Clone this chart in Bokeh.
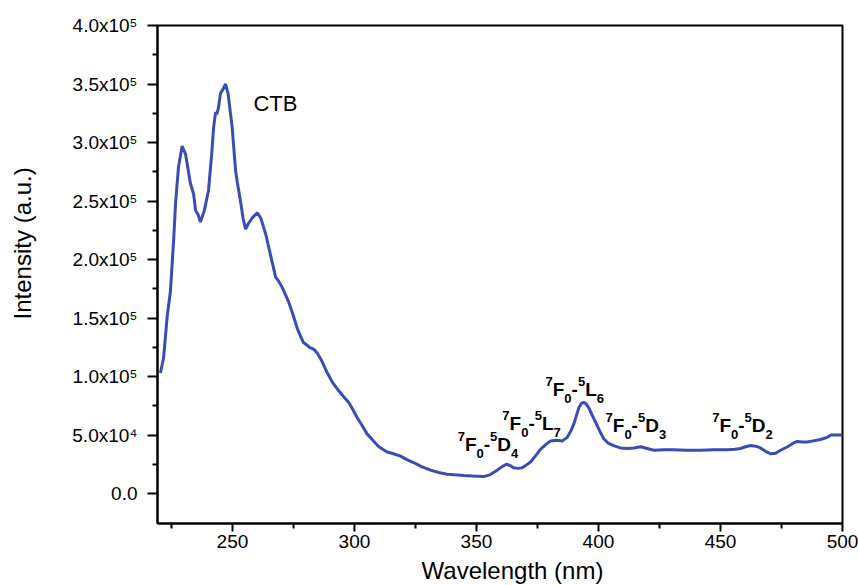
import math
from bokeh.plotting import figure
from bokeh.layouts import row, column
from bokeh.models import ColumnDataSource, FixedTicker, Label
from bokeh.core.properties import value
from bokeh.embed import file_html
from bokeh.resources import INLINE

# ---------------- data ----------------
wavelength = [
    220.5, 221.8, 223.3, 224.6, 225.9, 226.7, 227.9, 229.4, 230.8, 232.8,
    234.1, 234.9, 236.0, 236.9, 238.5, 240.2, 241.5, 242.3, 243.1, 243.6,
    244.3, 245.1, 246.0, 247.2, 248.2, 249.9, 251.3, 252.0, 253.3, 254.4,
    255.4, 256.6, 258.3, 260.2, 261.7, 263.6, 265.6, 267.7, 268.8, 270.2,
    271.5, 273.0, 274.8, 276.6, 278.0, 279.1, 280.5, 281.5, 282.7, 283.5,
    284.8, 286.7, 288.9, 291.0, 293.5, 295.5, 297.6, 299.3, 301.1, 303.2,
    305.2, 307.8, 310.0, 313.4, 316.0, 318.9, 321.5, 324.2, 327.5, 331.2,
    334.5, 338.0, 341.0, 344.7, 348.5, 352.9, 355.5, 358.5, 360.5, 362.3,
    363.8, 365.2, 367.0, 368.8, 370.5, 372.2, 374.5, 376.3, 378.5, 380.4,
    382.8, 385.2, 387.2, 388.8, 390.0, 391.0, 392.0, 393.0, 394.0, 395.0,
    396.0, 397.4, 398.8, 400.4, 402.1, 404.0, 406.2, 409.0, 411.8, 414.5,
    417.3, 420.0, 422.6, 426.7, 430.8, 436.0, 441.9, 447.0, 452.8, 456.0,
    458.2, 460.3, 462.3, 464.4, 466.4, 468.5, 470.5, 472.6, 474.6, 477.5,
    479.8, 481.5, 483.5, 485.6, 488.0, 490.5, 492.3, 493.8, 495.2, 497.5,
    499.3, 500.0,
]
intensity_e5 = [
    1.03, 1.16, 1.52, 1.73, 2.16, 2.48, 2.79, 2.97, 2.90, 2.65,
    2.56, 2.42, 2.38, 2.32, 2.42, 2.59, 2.90, 3.13, 3.26, 3.24,
    3.30, 3.42, 3.45, 3.50, 3.42, 3.13, 2.76, 2.66, 2.50, 2.35,
    2.26, 2.31, 2.36, 2.40, 2.35, 2.22, 2.04, 1.85, 1.82, 1.77,
    1.71, 1.64, 1.53, 1.41, 1.34, 1.29, 1.27, 1.25, 1.24, 1.23,
    1.20, 1.13, 1.03, 0.95, 0.88, 0.83, 0.78, 0.72, 0.65, 0.58,
    0.51, 0.45, 0.40, 0.355, 0.34, 0.32, 0.29, 0.265, 0.23, 0.20,
    0.18, 0.165, 0.16, 0.155, 0.15, 0.145, 0.16, 0.20, 0.23, 0.25,
    0.24, 0.22, 0.215, 0.22, 0.245, 0.27, 0.33, 0.38, 0.42, 0.45,
    0.455, 0.45, 0.48, 0.54, 0.60, 0.67, 0.735, 0.77, 0.78, 0.765,
    0.735, 0.67, 0.61, 0.54, 0.47, 0.43, 0.41, 0.39, 0.385, 0.39,
    0.40, 0.385, 0.37, 0.375, 0.375, 0.37, 0.37, 0.375, 0.375, 0.378,
    0.385, 0.40, 0.41, 0.405, 0.39, 0.36, 0.34, 0.345, 0.37, 0.40,
    0.43, 0.445, 0.44, 0.44, 0.45, 0.46, 0.47, 0.48, 0.50, 0.50,
    0.50, 0.505,
]
intensity = [v * 1e5 for v in intensity_e5]

x_major_ticks = [250, 300, 350, 400, 450, 500]
x_minor_ticks = [225, 275, 325, 375, 425, 475]
y_major_ticks = [0, 50000, 100000, 150000, 200000, 250000, 300000, 350000, 400000]
y_minor_ticks = [25000, 75000, 125000, 175000, 225000, 275000, 325000, 375000]
y_tick_labels = ["0.0", "5.0x10\u2074", "1.0x10\u2075", "1.5x10\u2075", "2.0x10\u2075",
                 "2.5x10\u2075", "3.0x10\u2075", "3.5x10\u2075", "4.0x10\u2075"]

x_title = "Wavelength (nm)"
y_title = "Intensity (a.u.)"

# transition labels: (sup1, letter1, sub1, sup2, letter2, sub2), anchor x, anchor y
transitions = [
    ("7", "F", "0", "5", "D", "4"),
    ("7", "F", "0", "5", "L", "7"),
    ("7", "F", "0", "5", "L", "6"),
    ("7", "F", "0", "5", "D", "3"),
    ("7", "F", "0", "5", "D", "2"),
]
trans_x = [342.3, 360.6, 378.3, 402.9, 446.6]
trans_y = [41900, 60100, 88600, 58100, 58100]

FONT = "Liberation Sans"
BLUE = "#3a4db4"

# layout sizes
TOTAL_W, TOTAL_H = 858, 585
YT_W = 45          # strip holding the vertical axis title
XT_H = 25          # strip holding the horizontal axis title
MAIN_W = TOTAL_W - YT_W
MAIN_H = TOTAL_H - XT_H

p = figure(width=MAIN_W, height=MAIN_H, x_range=(219.3, 500), y_range=(-25600, 400000),
           output_backend="svg", toolbar_location=None,
           min_border_left=157 - YT_W, min_border_right=16, min_border_top=25,
           min_border_bottom=62 - XT_H)
p.background_fill_color = "white"
p.border_fill_color = "white"
p.xgrid.visible = False
p.ygrid.visible = False
p.outline_line_color = "black"
p.outline_line_width = 2

p.line(wavelength, intensity, line_color=BLUE, line_width=3)

# axes
for ax in (p.xaxis[0], p.yaxis[0]):
    ax.axis_line_width = 2
    ax.axis_line_color = "black"
    ax.major_tick_line_width = 2
    ax.minor_tick_line_width = 2
    ax.major_tick_line_color = "black"
    ax.minor_tick_line_color = "black"
    ax.major_tick_in = 0
    ax.minor_tick_in = 0
    ax.major_label_text_font = FONT
    ax.major_label_text_font_size = "19px"
    ax.major_label_text_color = "black"

p.xaxis.ticker = FixedTicker(ticks=x_major_ticks, minor_ticks=x_minor_ticks)
p.yaxis.ticker = FixedTicker(ticks=y_major_ticks, minor_ticks=y_minor_ticks)
p.xaxis.major_tick_out = 8
p.xaxis.minor_tick_out = 5
p.yaxis.major_tick_out = 10
p.yaxis.minor_tick_out = 5
p.xaxis.major_label_standoff = 3
p.yaxis.major_label_standoff = 10
p.yaxis.major_label_overrides = {t: s for t, s in zip(y_major_ticks, y_tick_labels)}

# CTB label
p.add_layout(Label(x=258.6, y=333300, text="CTB", text_align="left",
                   text_baseline="alphabetic", text_font=FONT,
                   text_font_size="22px", text_color="black"))

# transition labels built from pieces (superscripts / subscripts)
MAIN, SMALL = 19, 13
cw = {"F": 0.611, "D": 0.722, "L": 0.611, "-": 0.333}
xs, ys, txt, xo, yo, fs = [], [], [], [], [], []
for (s1, l1, b1, s2, l2, b2), ax_, ay_ in zip(transitions, trans_x, trans_y):
    pieces = [(s1, SMALL, -8), (l1, MAIN, 0), (b1, SMALL, 9), ("-", MAIN, 0),
              (s2, SMALL, -8), (l2, MAIN, 0), (b2, SMALL, 9)]
    dx = 0.0
    for t, size, dy in pieces:
        xs.append(ax_)
        ys.append(ay_)
        txt.append(t)
        xo.append(dx)
        yo.append(dy)
        fs.append(f"{size}px")
        dx += cw.get(t, 0.556) * size
src = ColumnDataSource(dict(x=xs, y=ys, text=txt, xo=xo, yo=yo, fs=fs))
p.text(x="x", y="y", text="text", x_offset="xo", y_offset="yo", text_font_size="fs",
       source=src, text_font=value(FONT), text_font_style="bold", text_color="black",
       text_align="left", text_baseline="alphabetic")


def strip(width, height):
    f = figure(width=width, height=height, x_range=(0, width), y_range=(0, height),
               output_backend="svg", toolbar_location=None,
               x_axis_type=None, y_axis_type=None, min_border=0)
    f.outline_line_color = None
    f.background_fill_color = "white"
    f.border_fill_color = "white"
    return f


# vertical axis title strip (coordinates in strip pixels, origin bottom-left)
yt = strip(YT_W, MAIN_H)
yt.text(x=[22], y=[MAIN_H - 245], text=[y_title], angle=math.pi / 2,
        text_font=value(FONT), text_font_size="24px", text_color="black",
        text_align="center", text_baseline="middle")

# horizontal axis title strip (baseline placed a little above the strip bottom)
xt = strip(TOTAL_W, XT_H)
xt.text(x=[512], y=[15], text=[x_title],
        text_font=value(FONT), text_font_size="24px", text_color="black",
        text_align="center", text_baseline="alphabetic")

layout = column(row(yt, p, spacing=0), xt, spacing=0)
open("out.html", "w").write(file_html(layout, INLINE))
